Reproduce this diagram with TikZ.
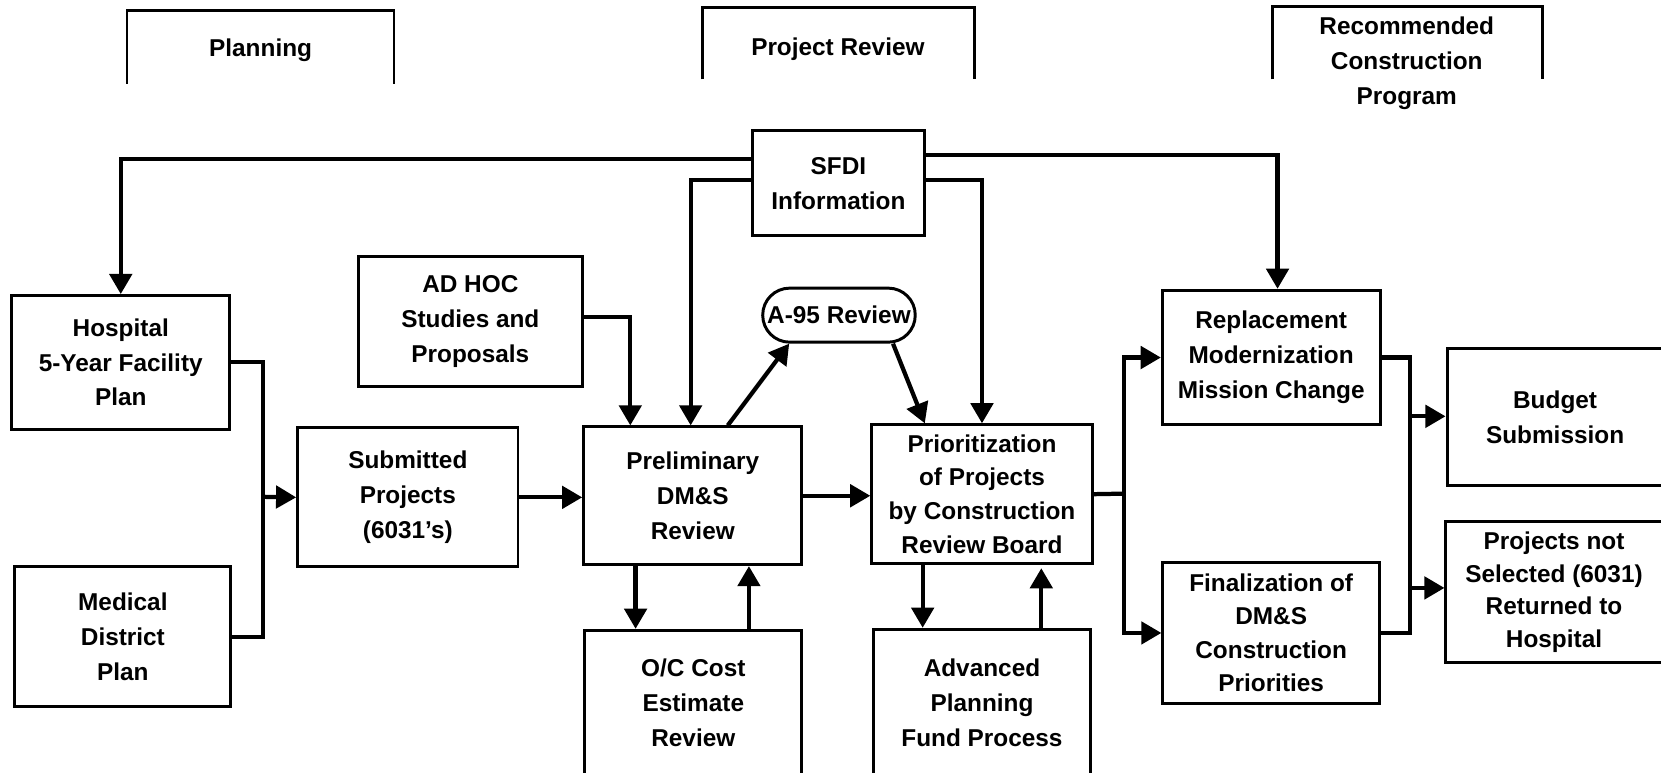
\documentclass[tikz,border=0pt]{standalone}
\usepackage{fontspec}
\setmainfont{Liberation Sans}
\usetikzlibrary{arrows.meta}

\begin{document}
\begin{tikzpicture}
[x=0.5pt,y=-0.5pt,
every node/.style={align=center,font=\bfseries\fontsize{11.5}{16.5}\selectfont},
box/.style={draw,line width=1.4pt,inner sep=0pt},
line/.style={line width=2pt},
arr/.style={line width=2pt,-{Triangle[length=9.5pt,width=10.5pt]}},
head/.style={line width=1.2pt},
]
\clip (0,0) rectangle (1568,729);

\node (planning) at (246,47) {Planning};
\node (projreview) at (791,46) {Project Review};
\node (recommended) at (1328,60) {Recommended\\Construction\\Program};
\draw[head] (120,79) |- (372,10) -- (372,79);
\draw[head] (663,75) |- (920,7) -- (920,75);
\draw[head] (1201,75) |- (1456,6) -- (1456,75);

\node[box,minimum width=81.5pt,minimum height=49.5pt] (sfdi) at (791.5,173) {SFDI\\Information};
\node[box,minimum width=103pt,minimum height=63pt] (hosp) at (114,342) {Hospital\\5-Year Facility\\Plan};
\node[box,minimum width=102pt,minimum height=66pt] (medical) at (116,601) {Medical\\District\\Plan};
\node[box,minimum width=106pt,minimum height=61.5pt] (adhoc) at (444,303.5) {AD HOC\\Studies and\\Proposals};
\node[box,minimum width=104pt,minimum height=65.5pt] (submitted) at (385,469.5) {Submitted\\Projects\\(6031's)};
\node[box,rounded corners=12.7pt,minimum width=72pt,minimum height=25.5pt] (a95) at (792,297.5) {A-95 Review};
\node[box,minimum width=103pt,minimum height=65pt] (prelim) at (654,468) {Preliminary\\DM\&S\\Review};
\node[box,minimum width=102.5pt,minimum height=68pt] (occost) at (654.5,663) {O/C Cost\\Estimate\\Review};
\node[box,minimum width=104pt,minimum height=65.5pt,font=\bfseries\fontsize{11.5}{16}\selectfont] (prior) at (927,466.5) {Prioritization\\of Projects\\by Construction\\Review Board};
\node[box,minimum width=102.75pt,minimum height=69pt] (advanced) at (927,663) {Advanced\\Planning\\Fund Process};
\node[box,minimum width=102.75pt,minimum height=63.5pt] (replacement) at (1200,337.5) {Replacement\\Modernization\\Mission Change};
\node[box,minimum width=102.25pt,minimum height=66.5pt,font=\bfseries\fontsize{11.5}{15.8}\selectfont] (final) at (1200,597.5) {Finalization of\\DM\&S\\Construction\\Priorities};
\node[box,minimum width=102pt,minimum height=64.5pt] (budget) at (1468,393.5) {Budget\\Submission};
\node[box,minimum width=102pt,minimum height=66.75pt,font=\bfseries\fontsize{11.5}{15.5}\selectfont] (notsel) at (1467,559) {Projects not\\Selected (6031)\\Returned to\\Hospital};

\draw[arr] (sfdi.west |- 0,150) -| (hosp.north);
\draw[arr] (sfdi.west |- 0,170) -| (prelim.north -| 652,0);
\draw[arr] (sfdi.east |- 0,146) -| ([xshift=3pt]replacement.north);
\draw[arr] (sfdi.east |- 0,170) -| (prior.north);
\draw[arr] (adhoc.east |- 0,299) -| (prelim.north -| 595,0);
\draw[arr] (prelim.north -| 687,0) -- (a95.south -| 745,0);
\draw[arr] (a95.south -| 843,0) -- (prior.north -| 873,0);

\coordinate (jl) at (248,469);
\draw[line] (hosp.east) -| (jl) |- (medical.east);
\draw[arr] (jl) -- (submitted.west);
\draw[arr] (submitted.east) -- (submitted.east -| prelim.west);
\draw[arr] (prelim.east) -- (prelim.east -| prior.west);

\draw[arr] (prelim.south -| 600,0) -- (occost.north -| 600,0);
\draw[arr] (occost.north -| 707,0) -- (prelim.south -| 707,0);
\draw[arr] (prior.south -| 871,0) -- (advanced.north -| 871,0);
\draw[arr] (advanced.north -| 983,0) -- ([yshift=-1.5pt]prior.south -| 983,0);

\coordinate (jr) at (1061,466);
\draw[line] (prior.east) -- (jr);
\draw[arr] (jr) |- (replacement.west);
\draw[arr] (jr) |- (final.west);

\coordinate (jt) at (1331,393);
\coordinate (jn) at (1331,555);
\draw[line] (replacement.east) -| (jt) -- (jn) |- (final.east);
\draw[arr] (jt) -- (jt -| budget.west);
\draw[arr] (jn) -- (jn -| notsel.west);
\end{tikzpicture}
\end{document}
